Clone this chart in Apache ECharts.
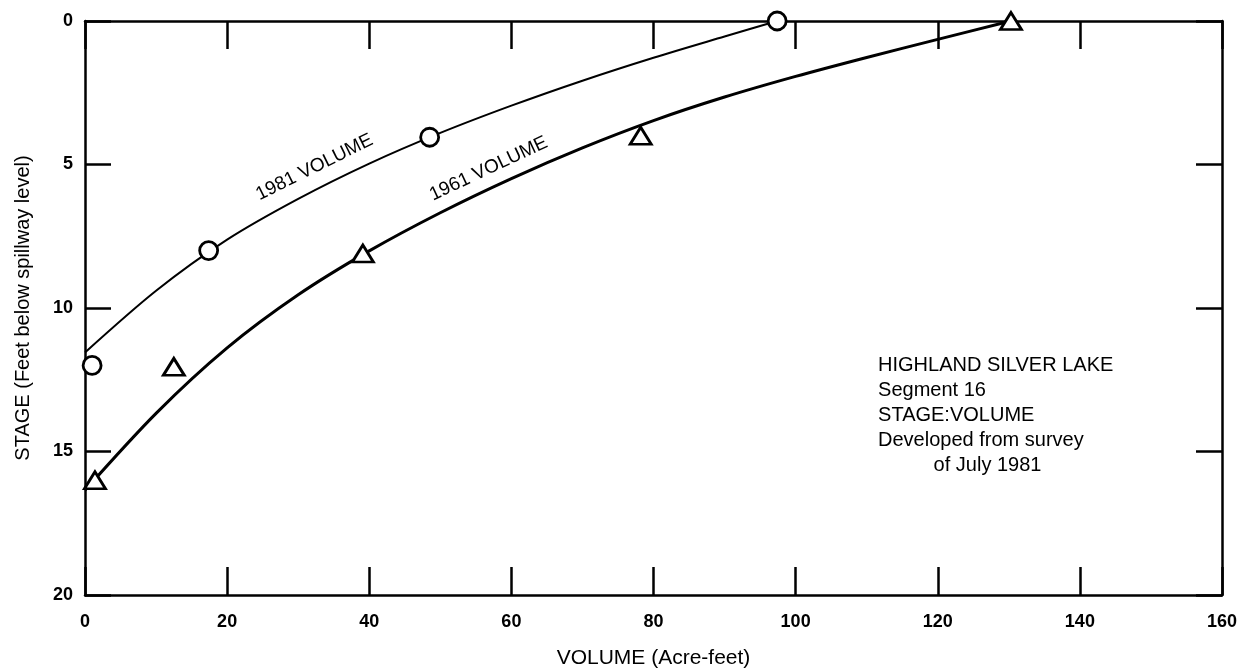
<!DOCTYPE html>
<html><head><meta charset="utf-8">
<script src="https://cdn.jsdelivr.net/npm/echarts@6/dist/echarts.min.js"></script>
<style>html,body{margin:0;padding:0;background:#fff}#c{width:1250px;height:672px}</style>
</head><body><div id="c"></div>
<script>
// Observed points
const pts1981X = [1.0, 17.4, 48.5, 97.4];
const pts1981Y = [12.0, 8.0, 4.05, 0];
const pts1961X = [1.4, 12.5, 39.1, 78.2, 130.3];
const pts1961Y = [16.0, 12.05, 8.1, 4.0, 0];
// Fitted curves
const curve1981X = [0, 10, 20, 30, 40, 50, 60, 70, 80, 90, 97.4];
const curve1981Y = [11.55, 9.4, 7.62, 6.2, 4.97, 3.9, 2.95, 2.08, 1.28, 0.54, 0];
const curve1961X = [0, 10, 20, 30, 40, 50, 60, 70, 80, 90, 100, 110, 120, 130];
const curve1961Y = [16.35, 13.67, 11.39, 9.54, 8.01, 6.68, 5.49, 4.42, 3.47, 2.65, 1.93, 1.27, 0.64, 0.02];
const xTicks = [0, 20, 40, 60, 80, 100, 120, 140, 160];
const yTicks = [0, 5, 10, 15, 20];
const noteLines = ['HIGHLAND SILVER LAKE', 'Segment 16', 'STAGE:VOLUME', 'Developed from survey', '          of July 1981'];

const zip = (a, b) => a.map((v, i) => [v, b[i]]);
const F = '"Liberation Sans", Arial, Helvetica, sans-serif';
const chart = echarts.init(document.getElementById('c'));
const axisLine = {show: true, onZero: false, lineStyle: {color: '#000', width: 2.5}};
const tickX = {show: true, inside: true, length: 28, lineStyle: {color: '#000', width: 2.5}};
const tickY = {show: true, inside: true, length: 26, lineStyle: {color: '#000', width: 2.5}};
const lbl = {color: '#000', fontFamily: F, fontSize: 18, fontWeight: 'bold'};

chart.setOption({
  animation: false,
  grid: {left: 85, right: 28, top: 21, bottom: 77, containLabel: false, outerBoundsMode: 'none'},
  xAxis: [
    {type: 'value', min: 0, max: 160, interval: 20, position: 'bottom',
     axisLine, axisTick: tickX, splitLine: {show: false},
     axisLabel: Object.assign({margin: 18}, lbl),
     name: 'VOLUME (Acre-feet)', nameLocation: 'middle', nameGap: 53,
     nameTextStyle: {color: '#000', fontFamily: F, fontSize: 21}},
    {type: 'value', min: 0, max: 160, interval: 20, position: 'top',
     axisLine, axisTick: tickX, splitLine: {show: false}, axisLabel: {show: false}}
  ],
  yAxis: [
    {type: 'value', min: 0, max: 20, interval: 5, inverse: true, position: 'left',
     axisLine, axisTick: tickY, splitLine: {show: false},
     axisLabel: Object.assign({margin: 12}, lbl),
     name: 'STAGE (Feet below spillway level)', nameLocation: 'middle', nameGap: 52,
     nameTextStyle: {color: '#000', fontFamily: F, fontSize: 20}},
    {type: 'value', min: 0, max: 20, interval: 5, inverse: true, position: 'right',
     axisLine, axisTick: tickY, splitLine: {show: false}, axisLabel: {show: false}}
  ],
  series: [
    {type: 'line', data: zip(curve1981X, curve1981Y), smooth: 0.3, symbol: 'none',
     lineStyle: {color: '#000', width: 2}},
    {type: 'line', data: zip(curve1961X, curve1961Y), smooth: 0.3, symbol: 'none',
     lineStyle: {color: '#000', width: 3}},
    {type: 'scatter', data: zip(pts1981X, pts1981Y), symbol: 'circle', symbolSize: 18,
     itemStyle: {color: '#fff', borderColor: '#000', borderWidth: 2.8, opacity: 1}, z: 5},
    {type: 'scatter', data: zip(pts1961X, pts1961Y), symbol: 'triangle', symbolSize: [21, 17],
     itemStyle: {color: '#fff', borderColor: '#000', borderWidth: 2.8, opacity: 1}, z: 5}
  ]
});

const p = (x, y) => chart.convertToPixel({xAxisIndex: 0, yAxisIndex: 0}, [x, y]);
const a1 = p(32.3, 5.1), a2 = p(56.8, 5.15), n = p(111.6, 11.55);
chart.setOption({graphic: [
  {type: 'text', x: a1[0], y: a1[1], rotation: 0.46,
   style: {text: '1981 VOLUME', fill: '#000', font: '19px ' + F, align: 'center', verticalAlign: 'middle'}},
  {type: 'text', x: a2[0], y: a2[1], rotation: 0.44,
   style: {text: '1961 VOLUME', fill: '#000', font: '19px ' + F, align: 'center', verticalAlign: 'middle'}},
  {type: 'text', x: n[0], y: n[1],
   style: {text: noteLines.join('\n'), fill: '#000', font: '20px ' + F, lineHeight: 25, align: 'left', verticalAlign: 'top'}}
]});
</script></body></html>
